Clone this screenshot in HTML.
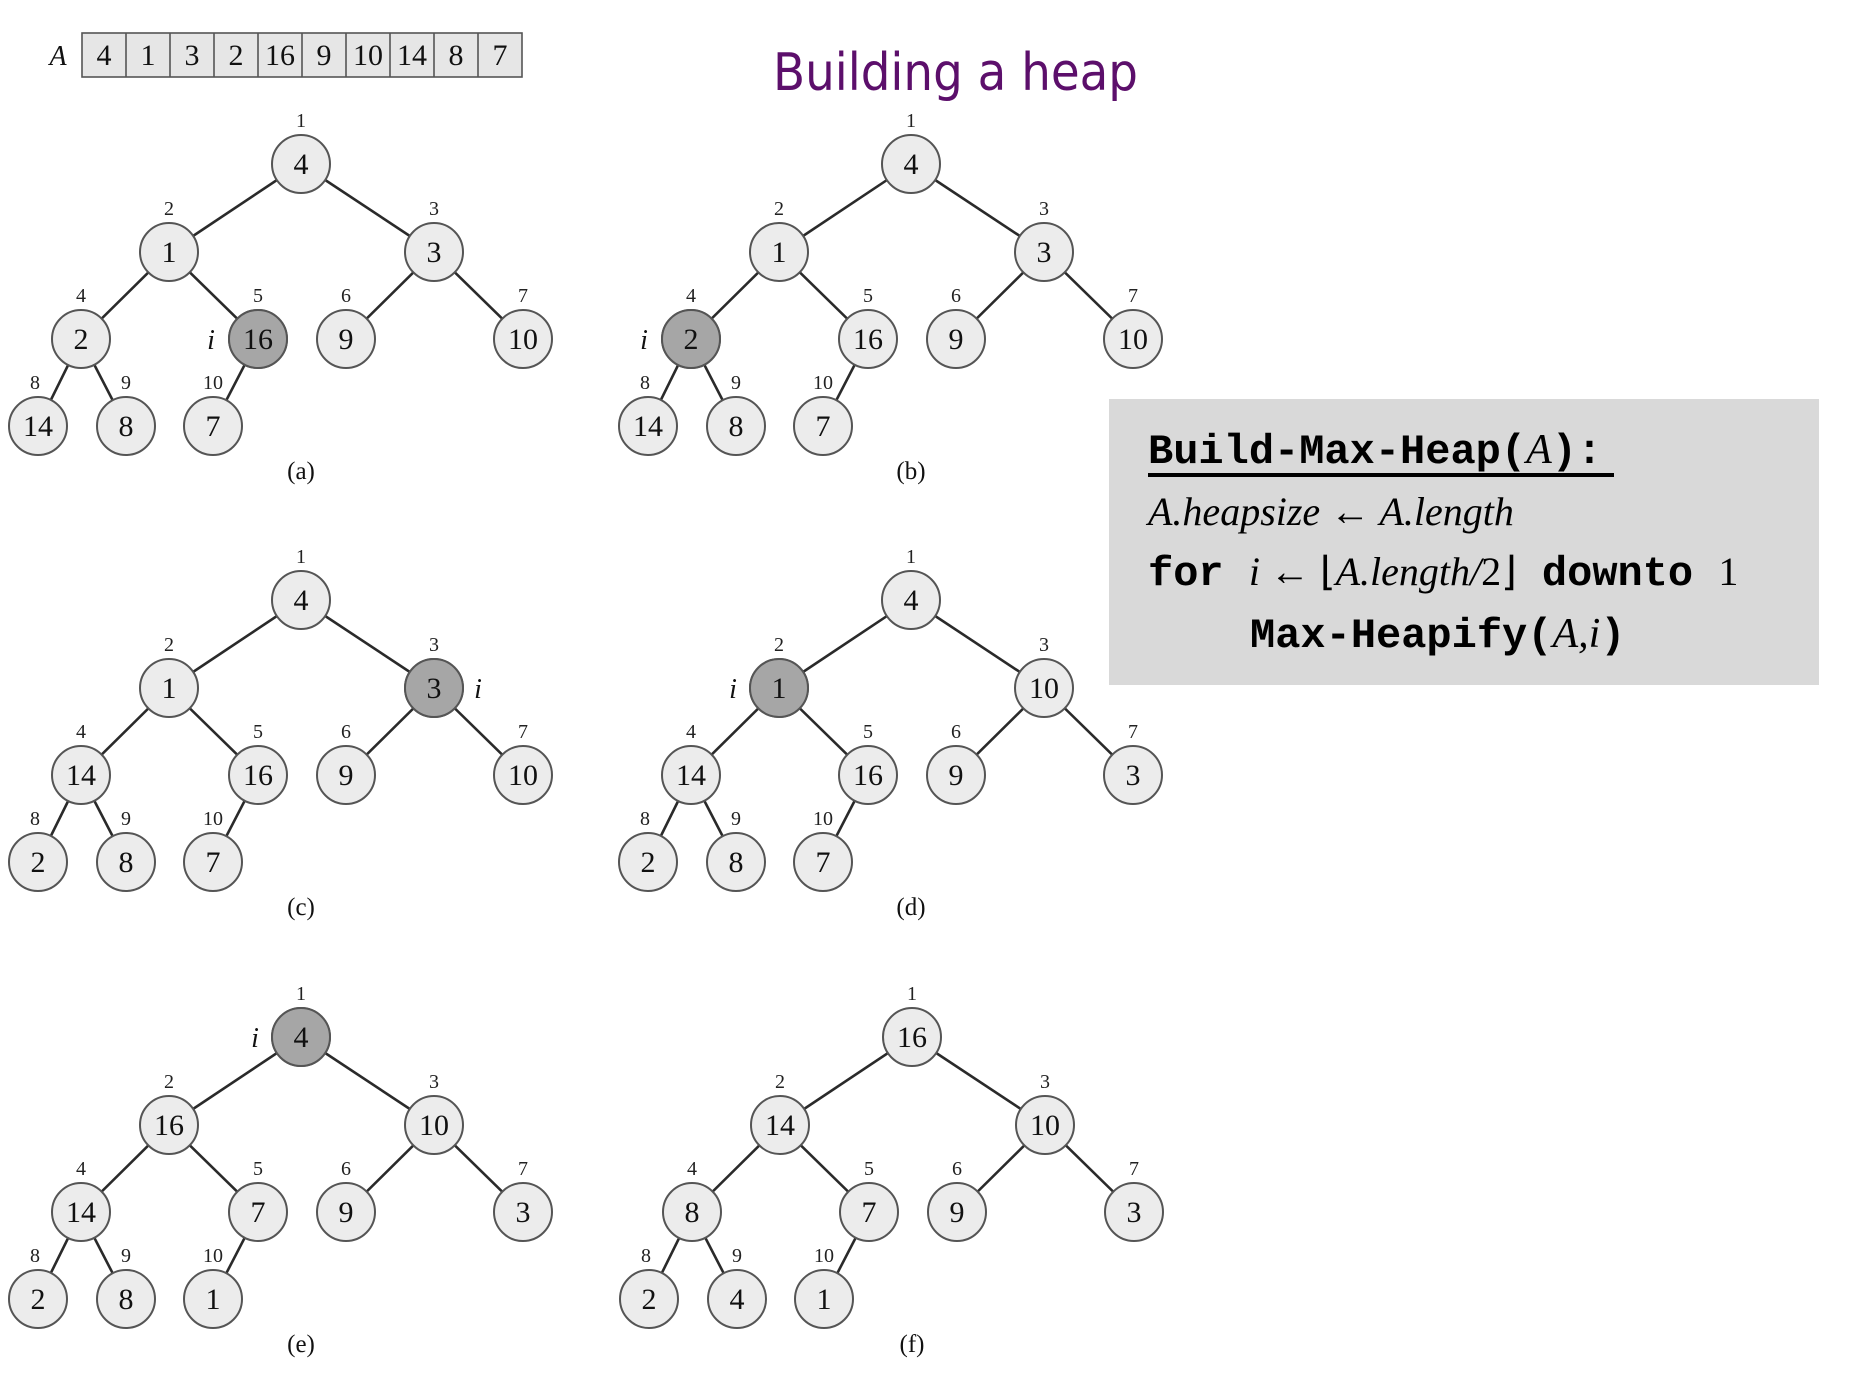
<!DOCTYPE html>
<html><head><meta charset="utf-8"><style>
html,body{margin:0;padding:0;background:#fff;}
svg{display:block;}
.v{font-family:"Liberation Serif",serif;font-size:30px;text-anchor:middle;fill:#111;}
.ix{font-family:"Liberation Serif",serif;font-size:20px;text-anchor:middle;fill:#222;}
.cap{font-family:"Liberation Serif",serif;font-size:25px;text-anchor:middle;fill:#111;}
.it{font-family:"Liberation Serif",serif;font-style:italic;font-size:28px;text-anchor:middle;fill:#111;}
</style></head><body>
<svg width="1868" height="1398" viewBox="0 0 1868 1398" xmlns="http://www.w3.org/2000/svg">
<defs>
<g id="edges" stroke="#2a2a2a" stroke-width="2.6" fill="none">
<line x1="0" y1="0" x2="-132" y2="88"/><line x1="0" y1="0" x2="133" y2="88"/>
<line x1="-132" y1="88" x2="-220" y2="175"/><line x1="-132" y1="88" x2="-43" y2="175"/>
<line x1="133" y1="88" x2="45" y2="175"/><line x1="133" y1="88" x2="222" y2="175"/>
<line x1="-220" y1="175" x2="-263" y2="262"/><line x1="-220" y1="175" x2="-175" y2="262"/>
<line x1="-43" y1="175" x2="-88" y2="262"/>
</g>
<g id="circles" fill="#ececec" stroke="#555" stroke-width="2">
<circle cx="0" cy="0" r="29"/><circle cx="-132" cy="88" r="29"/><circle cx="133" cy="88" r="29"/>
<circle cx="-220" cy="175" r="29"/><circle cx="-43" cy="175" r="29"/><circle cx="45" cy="175" r="29"/><circle cx="222" cy="175" r="29"/>
<circle cx="-263" cy="262" r="29"/><circle cx="-175" cy="262" r="29"/><circle cx="-88" cy="262" r="29"/>
</g>
<g id="idx">
<text class="ix" x="0" y="-37">1</text><text class="ix" x="-132" y="51">2</text><text class="ix" x="133" y="51">3</text><text class="ix" x="-220" y="138">4</text><text class="ix" x="-43" y="138">5</text><text class="ix" x="45" y="138">6</text><text class="ix" x="222" y="138">7</text><text class="ix" x="-266" y="225">8</text><text class="ix" x="-175" y="225">9</text><text class="ix" x="-88" y="225">10</text>
</g>
</defs>

<text x="58" y="65" class="it" font-size="26">A</text>
<rect x="82" y="33" width="440" height="44" fill="#e6e6e6" stroke="#555" stroke-width="1.6"/>
<g stroke="#555" stroke-width="1.6">
<line x1="126" y1="33" x2="126" y2="77"/><line x1="170" y1="33" x2="170" y2="77"/><line x1="214" y1="33" x2="214" y2="77"/><line x1="258" y1="33" x2="258" y2="77"/><line x1="302" y1="33" x2="302" y2="77"/><line x1="346" y1="33" x2="346" y2="77"/><line x1="390" y1="33" x2="390" y2="77"/><line x1="434" y1="33" x2="434" y2="77"/><line x1="478" y1="33" x2="478" y2="77"/>
</g>
<text x="104" y="65" class="v">4</text><text x="148" y="65" class="v">1</text><text x="192" y="65" class="v">3</text><text x="236" y="65" class="v">2</text><text x="280" y="65" class="v">16</text><text x="324" y="65" class="v">9</text><text x="368" y="65" class="v">10</text><text x="412" y="65" class="v">14</text><text x="456" y="65" class="v">8</text><text x="500" y="65" class="v">7</text>

<text x="773" y="90" font-family="'DejaVu Sans',sans-serif" font-size="52" fill="#5c0f6b" textLength="365" lengthAdjust="spacingAndGlyphs">Building a heap</text>

<rect x="1109" y="399" width="710" height="286" fill="#d9d9d9"/>
<text x="1148" y="463" font-family="'Liberation Mono',monospace" font-weight="bold" font-size="42" fill="#000">Build-Max-Heap(<tspan font-family="'Liberation Serif',serif" font-style="italic" font-weight="normal">A</tspan>):</text>
<rect x="1148" y="473" width="466" height="4" fill="#000"/>
<text x="1148" y="525" font-family="'Liberation Serif',serif" font-style="italic" font-size="40" fill="#000">A.heapsize <tspan font-style="normal">←</tspan> A.length</text>
<text x="1148" y="585" font-family="'Liberation Mono',monospace" font-weight="bold" font-size="42" fill="#000">for <tspan font-family="'Liberation Serif',serif" font-style="italic" font-weight="normal" font-size="40">i <tspan font-style="normal">← ⌊</tspan>A.length/<tspan font-style="normal">2⌋</tspan></tspan> downto <tspan font-family="'Liberation Serif',serif" font-weight="normal" font-size="40">1</tspan></text>
<text x="1250" y="647" font-family="'Liberation Mono',monospace" font-weight="bold" font-size="42" fill="#000">Max-Heapify(<tspan font-family="'Liberation Serif',serif" font-style="italic" font-weight="normal">A,i</tspan>)</text>

<g transform="translate(301,164)">
<use href="#edges"/><use href="#circles"/>
<circle cx="-43" cy="175" r="29" fill="#a6a6a6" stroke="#555" stroke-width="2"/>
<use href="#idx"/>
<text class="v" x="0" y="10">4</text><text class="v" x="-132" y="98">1</text><text class="v" x="133" y="98">3</text><text class="v" x="-220" y="185">2</text><text class="v" x="-43" y="185">16</text><text class="v" x="45" y="185">9</text><text class="v" x="222" y="185">10</text><text class="v" x="-263" y="272">14</text><text class="v" x="-175" y="272">8</text><text class="v" x="-88" y="272">7</text>
<text class="it" x="-90" y="185">i</text>
<text class="cap" x="0" y="315">(a)</text>
</g>

<g transform="translate(911,164)">
<use href="#edges"/><use href="#circles"/>
<circle cx="-220" cy="175" r="29" fill="#a6a6a6" stroke="#555" stroke-width="2"/>
<use href="#idx"/>
<text class="v" x="0" y="10">4</text><text class="v" x="-132" y="98">1</text><text class="v" x="133" y="98">3</text><text class="v" x="-220" y="185">2</text><text class="v" x="-43" y="185">16</text><text class="v" x="45" y="185">9</text><text class="v" x="222" y="185">10</text><text class="v" x="-263" y="272">14</text><text class="v" x="-175" y="272">8</text><text class="v" x="-88" y="272">7</text>
<text class="it" x="-267" y="185">i</text>
<text class="cap" x="0" y="315">(b)</text>
</g>

<g transform="translate(301,600)">
<use href="#edges"/><use href="#circles"/>
<circle cx="133" cy="88" r="29" fill="#a6a6a6" stroke="#555" stroke-width="2"/>
<use href="#idx"/>
<text class="v" x="0" y="10">4</text><text class="v" x="-132" y="98">1</text><text class="v" x="133" y="98">3</text><text class="v" x="-220" y="185">14</text><text class="v" x="-43" y="185">16</text><text class="v" x="45" y="185">9</text><text class="v" x="222" y="185">10</text><text class="v" x="-263" y="272">2</text><text class="v" x="-175" y="272">8</text><text class="v" x="-88" y="272">7</text>
<text class="it" x="177" y="98">i</text>
<text class="cap" x="0" y="315">(c)</text>
</g>

<g transform="translate(911,600)">
<use href="#edges"/><use href="#circles"/>
<circle cx="-132" cy="88" r="29" fill="#a6a6a6" stroke="#555" stroke-width="2"/>
<use href="#idx"/>
<text class="v" x="0" y="10">4</text><text class="v" x="-132" y="98">1</text><text class="v" x="133" y="98">10</text><text class="v" x="-220" y="185">14</text><text class="v" x="-43" y="185">16</text><text class="v" x="45" y="185">9</text><text class="v" x="222" y="185">3</text><text class="v" x="-263" y="272">2</text><text class="v" x="-175" y="272">8</text><text class="v" x="-88" y="272">7</text>
<text class="it" x="-178" y="98">i</text>
<text class="cap" x="0" y="315">(d)</text>
</g>

<g transform="translate(301,1037)">
<use href="#edges"/><use href="#circles"/>
<circle cx="0" cy="0" r="29" fill="#a6a6a6" stroke="#555" stroke-width="2"/>
<use href="#idx"/>
<text class="v" x="0" y="10">4</text><text class="v" x="-132" y="98">16</text><text class="v" x="133" y="98">10</text><text class="v" x="-220" y="185">14</text><text class="v" x="-43" y="185">7</text><text class="v" x="45" y="185">9</text><text class="v" x="222" y="185">3</text><text class="v" x="-263" y="272">2</text><text class="v" x="-175" y="272">8</text><text class="v" x="-88" y="272">1</text>
<text class="it" x="-46" y="10">i</text>
<text class="cap" x="0" y="315">(e)</text>
</g>

<g transform="translate(912,1037)">
<use href="#edges"/><use href="#circles"/>
<use href="#idx"/>
<text class="v" x="0" y="10">16</text><text class="v" x="-132" y="98">14</text><text class="v" x="133" y="98">10</text><text class="v" x="-220" y="185">8</text><text class="v" x="-43" y="185">7</text><text class="v" x="45" y="185">9</text><text class="v" x="222" y="185">3</text><text class="v" x="-263" y="272">2</text><text class="v" x="-175" y="272">4</text><text class="v" x="-88" y="272">1</text>
<text class="cap" x="0" y="315">(f)</text>
</g>
</svg>
</body></html>
